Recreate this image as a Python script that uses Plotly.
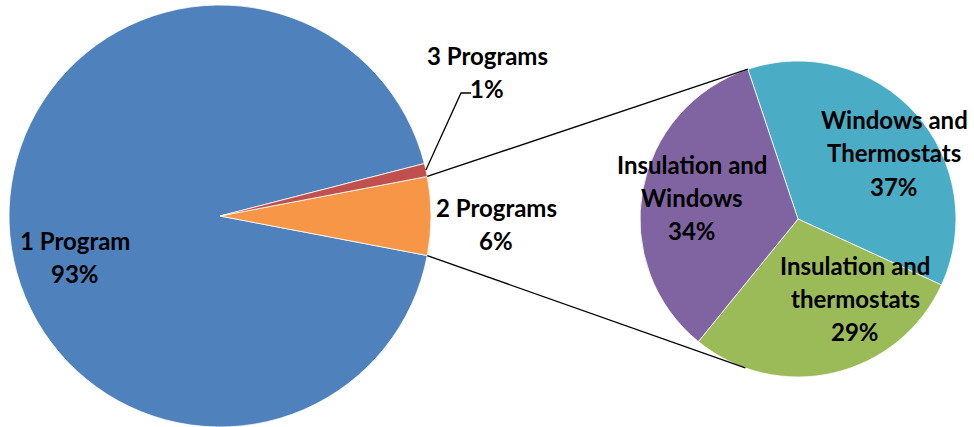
import math
import plotly.graph_objects as go

W, H = 974, 427

# Main pie: share of participants by number of programs
main_labels = ["1 Program", "2 Programs", "3 Programs"]
main_values = [93, 6, 1]
main_colors = ["#4F81BD", "#F79646", "#C0504D"]

# Breakdown of the "2 Programs" slice
split_labels = ["Windows and Thermostats", "Insulation and thermostats", "Insulation and Windows"]
split_values = [37, 29, 34]
split_colors = ["#4BACC6", "#9BBB59", "#8064A2"]

# Pie geometry in pixels (centre x, centre y, radius)
C1 = (220, 216, 211)
C2 = (798, 219, 158)

FONT = dict(family="Lato", size=24, color="black", weight="bold")
LINE_GAP = 33


def domain(c):
    cx, cy, r = c
    return dict(x=[(cx - r) / W, (cx + r) / W],
                y=[max(0, 1 - (cy + r) / H), min(1, 1 - (cy - r) / H)])


def rim(c, theta):
    """Point on the rim at angle theta (degrees clockwise from 12 o'clock)."""
    cx, cy, r = c
    t = math.radians(theta)
    return cx + r * math.sin(t), cy - r * math.cos(t)


def tangent(p, c, upper):
    """Tangent point on circle c of a line drawn from external point p."""
    cx, cy, r = c
    dx, dy = p[0] - cx, p[1] - cy
    d = math.hypot(dx, dy)
    base = math.atan2(dy, dx)
    alpha = math.acos(r / d)
    cand = [(cx + r * math.cos(base + s * alpha), cy + r * math.sin(base + s * alpha)) for s in (1, -1)]
    cand.sort(key=lambda q: q[1])
    return cand[0] if upper else cand[1]


def px(x, y):
    return x / W, 1 - y / H


total = sum(main_values)
split_idx = main_labels.index("2 Programs")
half = 0.5 * main_values[split_idx] / total * 360
top_theta, bot_theta = 90 - half, 90 + half

fig = go.Figure()

# Main pie, laid out counter-clockwise so the split slice sits at 3 o'clock
fig.add_trace(go.Pie(
    labels=main_labels, values=main_values, sort=False,
    direction="counterclockwise", rotation=bot_theta,
    marker=dict(colors=main_colors, line=dict(color="white", width=0.8)),
    textinfo="none", hoverinfo="label+percent", showlegend=False,
    domain=domain(C1),
))

# Connector lines from the split slice, tangent to the secondary pie
p_top = rim(C1, top_theta)
p_bot = rim(C1, bot_theta)
t_top = tangent(p_top, C2, upper=True)
t_bot = tangent(p_bot, C2, upper=False)
start_angle = math.degrees(math.atan2(t_top[0] - C2[0], -(t_top[1] - C2[1])))

fig.add_trace(go.Pie(
    labels=split_labels, values=split_values, sort=False,
    direction="clockwise", rotation=start_angle,
    marker=dict(colors=split_colors, line=dict(color="white", width=0.8)),
    textinfo="none", hoverinfo="label+percent", showlegend=False,
    domain=domain(C2),
))

for a, b in ((p_top, t_top), (p_bot, t_bot)):
    x0, y0 = px(*a)
    x1, y1 = px(*b)
    fig.add_shape(type="line", xref="paper", yref="paper",
                  x0=x0, y0=y0, x1=x1, y1=y1,
                  line=dict(color="black", width=1.3))

# Leader line for the small "3 Programs" slice
small_idx = main_labels.index("3 Programs")
small_theta = top_theta - 0.5 * main_values[small_idx] / total * 360
lp0 = rim(C1, small_theta)
elbow = (461, 93)
lend = (471, 93)
pts = [px(*lp0), px(*elbow), px(*lend)]
fig.add_shape(type="path", xref="paper", yref="paper",
              path="M {} {} L {} {} L {} {}".format(*[v for p in pts for v in p]),
              line=dict(color="black", width=1.3))


def label(lines, cx, cy):
    n = len(lines)
    for i, s in enumerate(lines):
        y = cy + (i - (n - 1) / 2) * LINE_GAP
        x, yy = px(cx, y)
        fig.add_annotation(x=x, y=yy, xref="paper", yref="paper", text=s,
                           showarrow=False, font=FONT,
                           xanchor="center", yanchor="middle")


def lines_for(name, value):
    parts = name.replace(" and ", " and\n").split("\n")
    return parts + [f"{value}%"]


main_pos = {"1 Program": (75, 257), "2 Programs": (496, 224), "3 Programs": (487, 72)}
for name, v in zip(main_labels, main_values):
    label(lines_for(name, v), *main_pos[name])

split_pos = {"Windows and Thermostats": (894, 153),
             "Insulation and thermostats": (855, 298),
             "Insulation and Windows": (692, 197)}
for name, v in zip(split_labels, split_values):
    label(lines_for(name, v), *split_pos[name])

fig.update_layout(
    width=W, height=H,
    margin=dict(l=0, r=0, t=0, b=0),
    paper_bgcolor="white", plot_bgcolor="white",
)

fig.write_html("out.html")
